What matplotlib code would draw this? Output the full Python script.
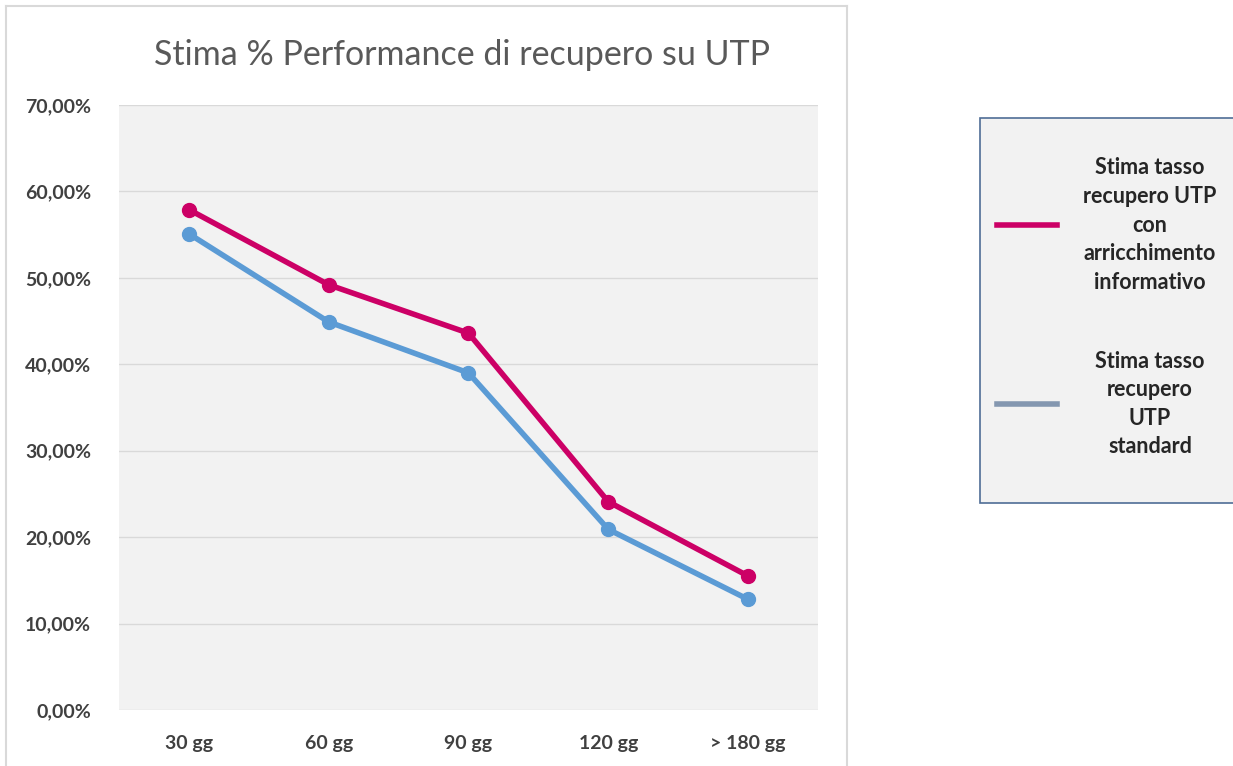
import matplotlib.pyplot as plt
from matplotlib.lines import Line2D
from matplotlib.patches import Rectangle

categories = ['30 gg', '60 gg', '90 gg', '120 gg', '> 180 gg']
arricchito = [57.9, 49.2, 43.6, 24.1, 15.5]
standard = [55.1, 44.9, 39.0, 20.9, 12.8]
yticks = [0, 10, 20, 30, 40, 50, 60, 70]
legend_labels = ['Stima tasso\nrecupero UTP\ncon\narricchimento\ninformativo',
                 'Stima tasso\nrecupero\nUTP\nstandard']

plt.rcParams['font.family'] = ['Lato', 'DejaVu Sans']

W, H = 1233, 766
fig = plt.figure(figsize=(W / 100, H / 100), dpi=100)
fig.patch.set_facecolor('white')

# outer chart frame (bottom runs off the picture)
frame_col = '#d9d9d9'
fig.add_artist(Line2D([6 / W, 6 / W], [0, 1 - 6 / H], color=frame_col, lw=1.5))
fig.add_artist(Line2D([6 / W, 847 / W], [1 - 6 / H, 1 - 6 / H], color=frame_col, lw=1.5))
fig.add_artist(Line2D([847 / W, 847 / W], [0, 1 - 6 / H], color=frame_col, lw=1.5))

ax = fig.add_axes([119 / W, 1 - 710 / H, (818 - 119) / W, (710 - 105) / H])
ax.set_facecolor('#f2f2f2')
x = range(len(categories))
ax.plot(x, arricchito, color='#cc0066', lw=4, marker='o', ms=10, zorder=3)
ax.plot(x, standard, color='#5b9bd5', lw=4, marker='o', ms=10, zorder=3)

ax.set_xlim(-0.5, len(categories) - 0.5)
ax.set_ylim(0, 70)
ax.set_yticks(yticks)
ax.set_yticklabels([f'{v},00%' for v in yticks], fontsize=14, fontweight='bold', color='#404040')
ax.set_xticks(list(x))
ax.set_xticklabels(categories, fontsize=14, fontweight='bold', color='#404040')
ax.tick_params(length=0)
ax.tick_params(axis='y', pad=20)
ax.tick_params(axis='x', pad=18)
ax.grid(axis='y', color='#d9d9d9', lw=1)
ax.set_axisbelow(True)
for s in ax.spines.values():
    s.set_visible(False)

fig.text(462 / W, 1 - 55 / H, 'Stima % Performance di recupero su UTP', ha='center', va='center',
         fontsize=24.5, color='#595959')

# legend box
fig.add_artist(Rectangle((980 / W, 1 - 503 / H), 260 / W, (503 - 118) / H, transform=fig.transFigure,
                         facecolor='#f2f2f2', edgecolor='#4f6d96', lw=1.2))
leg_cols = ['#cc0066', '#8497b0']
leg_y = [225, 404]
for lab, c, yy in zip(legend_labels, leg_cols, leg_y):
    fig.add_artist(Line2D([997 / W, 1057 / W], [1 - yy / H, 1 - yy / H], color=c, lw=4))
    fig.text(1150 / W, 1 - yy / H, lab, ha='center', va='center', fontsize=15.5, fontweight='bold',
             color='#262626', linespacing=1.45)

fig.savefig('out.png', dpi=100)
